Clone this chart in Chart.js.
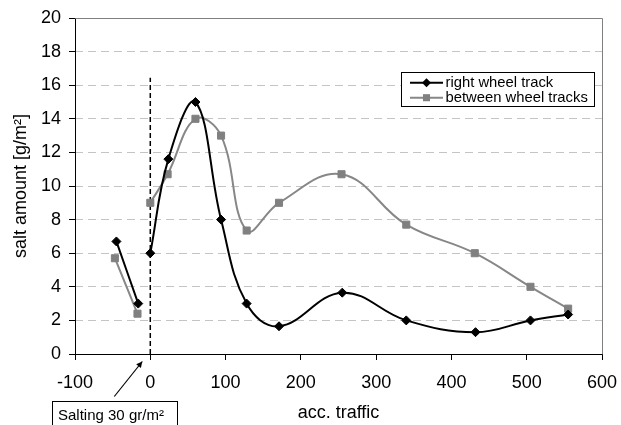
<!DOCTYPE html>
<html><head><meta charset="utf-8">
<script src="https://cdn.jsdelivr.net/npm/chart.js@4/dist/chart.umd.min.js"></script>
<style>html,body{margin:0;padding:0;background:#fff}canvas{display:block}</style>
</head><body>
<canvas id="c" width="621" height="425"></canvas>
<script>
// ---- data ----
const rightX = [-45, -16, -8, 0, 24, 60, 94, 128, 171, 255, 340, 432, 505, 555];
const rightY = [6.7, 3.0, null, 6.0, 11.6, 15.0, 8.0, 3.0, 1.65, 3.65, 2.0, 1.3, 2.0, 2.35];
const betweenX = [-47, -17, -8, 0, 23, 60, 94, 128, 171, 254, 340, 431, 505, 555];
const betweenY = [5.7, 2.4, null, 9.0, 10.7, 14.0, 13.0, 7.35, 9.0, 10.7, 7.7, 6.0, 4.0, 2.7];
const seriesNames = ["right wheel track", "between wheel tracks"];
const xMin = -100, xMax = 600, xStep = 100;
const yMin = 0, yMax = 20, yStep = 2;
const saltingX = 0, saltingLineTop = 16.45;
const annotationText = "Salting 30 gr/m\u00B2";
const xTitle = "acc. traffic";
const yTitle = "salt amount [g/m\u00B2]";

const FONT = "'Liberation Sans', Arial, sans-serif";
Chart.defaults.font.family = FONT;
Chart.defaults.color = '#000';

const toPts = (xs, ys) => xs.map((x, i) => ({x: x, y: ys[i]}));

const decor = {
  id: 'decor',
  beforeDatasetsDraw(chart) {
    const {ctx, chartArea: a, scales: {x, y}} = chart;
    ctx.save();
    ctx.lineWidth = 1;
    ctx.strokeStyle = '#808080';
    ctx.beginPath();
    ctx.moveTo(Math.round(a.left) + 0.5, Math.round(a.top) + 0.5);
    ctx.lineTo(Math.round(a.right) + 0.5, Math.round(a.top) + 0.5);
    ctx.lineTo(Math.round(a.right) + 0.5, Math.round(a.bottom) + 0.5);
    ctx.stroke();
    ctx.strokeStyle = '#000';
    ctx.beginPath();
    ctx.moveTo(Math.round(a.left) + 0.5, Math.round(a.top) + 0.5);
    ctx.lineTo(Math.round(a.left) + 0.5, Math.round(a.bottom) + 0.5);
    ctx.lineTo(Math.round(a.right) + 0.5, Math.round(a.bottom) + 0.5);
    ctx.stroke();
    const px = x.getPixelForValue(saltingX);
    ctx.setLineDash([5, 3]);
    ctx.lineWidth = 1.5;
    ctx.beginPath();
    ctx.moveTo(px, y.getPixelForValue(0));
    ctx.lineTo(px, y.getPixelForValue(saltingLineTop));
    ctx.stroke();
    ctx.setLineDash([]);
    ctx.restore();
  },
  afterDatasetsDraw(chart) {
    const {ctx, chartArea: a, scales: {x, y}} = chart;
    ctx.save();
    const px = x.getPixelForValue(saltingX);
    const tip = {x: px - 8, y: a.bottom + 7.5};
    const tail = {x: px - 36, y: a.bottom + 42.5};
    ctx.strokeStyle = '#000'; ctx.fillStyle = '#000'; ctx.lineWidth = 1.2;
    ctx.beginPath(); ctx.moveTo(tail.x, tail.y); ctx.lineTo(tip.x, tip.y); ctx.stroke();
    const ang = Math.atan2(tip.y - tail.y, tip.x - tail.x);
    const L = 6, W = 3;
    ctx.beginPath();
    ctx.moveTo(tip.x, tip.y);
    ctx.lineTo(tip.x - L*Math.cos(ang) + W*Math.sin(ang), tip.y - L*Math.sin(ang) - W*Math.cos(ang));
    ctx.lineTo(tip.x - L*Math.cos(ang) - W*Math.sin(ang), tip.y - L*Math.sin(ang) + W*Math.cos(ang));
    ctx.closePath(); ctx.fill();
    // annotation box
    ctx.lineWidth = 1;
    ctx.strokeStyle = '#000';
    ctx.fillStyle = '#fff';
    ctx.fillRect(53, 402, 125, 30);
    ctx.strokeRect(52.5, 401.5, 125, 30);
    ctx.fillStyle = '#000';
    ctx.font = '15px ' + FONT;
    ctx.textBaseline = 'alphabetic';
    ctx.textAlign = 'left';
    ctx.fillText(annotationText, 58, 419.5);
    // legend
    const lx = 401.5, ly = 72.5, lw = 193, lh = 34;
    ctx.fillStyle = '#fff';
    ctx.fillRect(lx, ly, lw, lh);
    ctx.strokeStyle = '#000';
    ctx.strokeRect(lx, ly, lw, lh);
    const rows = [82.7, 97.7];
    chart.data.datasets.forEach((ds, i) => {
      const ry = rows[i];
      ctx.strokeStyle = ds.borderColor;
      ctx.lineWidth = ds.borderWidth;
      ctx.beginPath(); ctx.moveTo(410, ry); ctx.lineTo(443, ry); ctx.stroke();
      ctx.fillStyle = ds.pointBackgroundColor;
      ctx.strokeStyle = ds.pointBorderColor;
      ctx.lineWidth = 1;
      ctx.beginPath();
      if (ds.pointStyle === 'rect') {
        const s = ds.pointRadius * Math.SQRT1_2;
        ctx.rect(426.5 - s, ry - s, 2*s, 2*s);
      } else {
        const r = ds.pointRadius;
        ctx.moveTo(426.5, ry - r); ctx.lineTo(426.5 + r, ry); ctx.lineTo(426.5, ry + r); ctx.lineTo(426.5 - r, ry); ctx.closePath();
      }
      ctx.fill();
      ctx.fillStyle = '#000';
      ctx.font = '14.8px ' + FONT;
      ctx.textBaseline = 'middle';
      ctx.fillText(ds.label, 445.5, ry + 0.5);
    });
    ctx.restore();
  }
};

new Chart(document.getElementById('c'), {
  type: 'line',
  data: {
    datasets: [
      {
        label: seriesNames[0],
        data: toPts(rightX, rightY),
        borderColor: '#000', borderWidth: 2,
        pointStyle: 'rectRot', pointRadius: 4.5,
        pointBackgroundColor: '#000', pointBorderColor: '#000', pointBorderWidth: 1,
        tension: 0.4, spanGaps: false, fill: false, order: 1
      },
      {
        label: seriesNames[1],
        data: toPts(betweenX, betweenY),
        borderColor: '#878787', borderWidth: 2,
        pointStyle: 'rect', pointRadius: 5,
        pointBackgroundColor: '#808080', pointBorderColor: '#808080', pointBorderWidth: 1,
        tension: 0.4, spanGaps: false, fill: false, order: 2
      }
    ]
  },
  options: {
    responsive: false,
    animation: false,
    devicePixelRatio: 1,
    layout: {padding: {top: 18, right: 19, left: 0, bottom: 0}},
    plugins: {legend: {display: false}, tooltip: {enabled: false}},
    scales: {
      x: {
        type: 'linear', min: xMin, max: xMax,
        afterFit: s => { s.height = 71; s.paddingLeft = 0; s.paddingRight = 0; },
        ticks: {stepSize: xStep, padding: 12, font: {size: 18}, color: '#000', maxRotation: 0},
        grid: {drawOnChartArea: false, drawTicks: true, tickLength: 6, tickColor: '#000'},
        border: {display: false},
        title: {display: true, text: xTitle, font: {size: 18}, color: '#000', padding: {top: 4, bottom: 1}}
      },
      y: {
        type: 'linear', min: yMin, max: yMax,
        afterFit: s => { s.width = 75; s.paddingTop = 0; s.paddingBottom = 0; },
        ticks: {stepSize: yStep, padding: 8, font: {size: 18}, color: '#000'},
        grid: {
          color: c => (c.tick && (c.tick.value === yMin || c.tick.value === yMax)) ? 'rgba(0,0,0,0)' : '#c4c4c4',
          lineWidth: 1, tickLength: 6, tickColor: '#000'
        },
        border: {display: false, dash: [8, 5]},
        title: {display: true, text: yTitle, font: {size: 18}, color: '#000', padding: {top: 10, bottom: 4}}
      }
    }
  },
  plugins: [decor]
});
</script>
</body></html>
